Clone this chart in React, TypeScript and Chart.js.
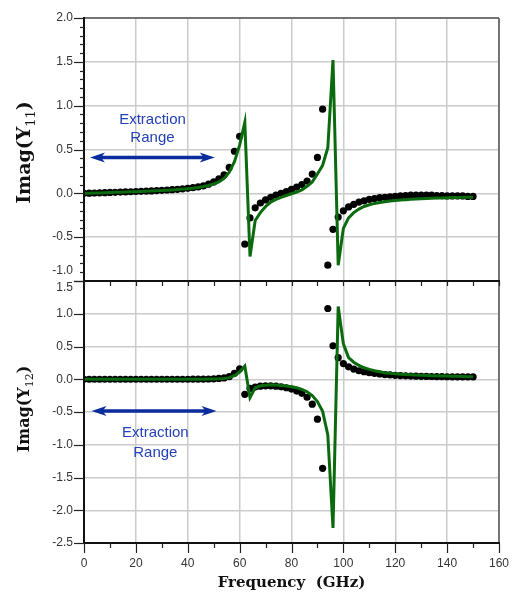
import React, { useEffect, useRef } from 'react';
import { Chart, registerables } from 'chart.js';

Chart.register(...registerables);

// ---------------- data ----------------
const frequencyGHz = [
  0, 2, 4, 6, 8, 10, 12, 14, 16, 18,
  20, 22, 24, 26, 28, 30, 32, 34, 36, 38,
  40, 42, 44, 46, 48, 50, 52, 54, 56, 58,
  60, 62, 64, 66, 68, 70, 72, 74, 76, 78,
  80, 82, 84, 86, 88, 90, 92, 94, 96, 98,
  100, 102, 104, 106, 108, 110, 112, 114, 116, 118,
  120, 122, 124, 126, 128, 130, 132, 134, 136, 138,
  140, 142, 144, 146, 148, 150,
];

const y11Measured = [
  0.0, 0.002, 0.004, 0.006, 0.008, 0.01, 0.012, 0.014, 0.016, 0.018,
  0.021, 0.023, 0.026, 0.028, 0.031, 0.034, 0.038, 0.042, 0.046, 0.051,
  0.057, 0.064, 0.073, 0.084, 0.105, 0.13, 0.165, 0.21, 0.295, 0.48,
  0.65, -0.58, -0.28, -0.165, -0.11, -0.075, -0.045, -0.02, 0.0, 0.02,
  0.045, 0.07, 0.1, 0.14, 0.22, 0.41, 0.96, -0.82, -0.41, -0.27,
  -0.2, -0.155, -0.125, -0.1, -0.085, -0.07, -0.06, -0.05, -0.045, -0.04,
  -0.035, -0.03, -0.025, -0.02, -0.02, -0.02, -0.02, -0.02, -0.025, -0.025,
  -0.03, -0.03, -0.03, -0.03, -0.035, -0.035,
];

const y11Model = [
  0.0, 0.001, 0.003, 0.005, 0.007, 0.009, 0.011, 0.013, 0.015, 0.017,
  0.019, 0.021, 0.024, 0.026, 0.029, 0.032, 0.035, 0.039, 0.043, 0.048,
  0.053, 0.059, 0.067, 0.077, 0.09, 0.107, 0.13, 0.17, 0.24, 0.36,
  0.55, 0.81, -0.72, -0.31, -0.22, -0.15, -0.1, -0.07, -0.045, -0.025,
  -0.005, 0.015, 0.04, 0.08, 0.13, 0.22, 0.32, 0.52, 1.52, -0.82,
  -0.4, -0.28, -0.22, -0.18, -0.15, -0.13, -0.115, -0.105, -0.095, -0.088,
  -0.082, -0.077, -0.072, -0.068, -0.064, -0.061, -0.058, -0.056, -0.054, -0.052,
  -0.05, -0.048, -0.047, -0.046, -0.045, -0.044,
];

const y12Measured = [
  0, 0, 0, 0, 0, 0, 0, 0, 0, 0,
  0, 0, 0, 0, 0, 0, 0, 0, 0, 0,
  0.0, 0.001, 0.001, 0.002, 0.004, 0.007, 0.012, 0.02, 0.04, 0.09,
  0.16, -0.23, -0.14, -0.12, -0.105, -0.1, -0.1, -0.105, -0.115, -0.13,
  -0.15, -0.18, -0.215, -0.275, -0.38, -0.61, -1.36, 1.08, 0.51, 0.33,
  0.24, 0.19, 0.155, 0.13, 0.115, 0.1, 0.09, 0.08, 0.072, 0.066,
  0.06, 0.056, 0.052, 0.049, 0.047, 0.045, 0.043, 0.042, 0.04, 0.039,
  0.038, 0.037, 0.036, 0.036, 0.035, 0.035,
];

const y12Model = [
  0, 0, 0, 0, 0, 0, 0, 0, 0, 0,
  0, 0, 0, 0, 0, 0, 0, 0, 0, 0,
  0.0, 0.0, 0.001, 0.001, 0.002, 0.003, 0.006, 0.012, 0.025, 0.055,
  0.11, 0.2, -0.28, -0.13, -0.1, -0.09, -0.085, -0.088, -0.094, -0.102,
  -0.114, -0.13, -0.155, -0.19, -0.25, -0.34, -0.49, -0.85, -2.27, 1.11,
  0.54, 0.33, 0.26, 0.21, 0.175, 0.15, 0.13, 0.115, 0.1, 0.092,
  0.085, 0.078, 0.072, 0.067, 0.063, 0.06, 0.057, 0.054, 0.052, 0.05,
  0.048, 0.046, 0.044, 0.042, 0.04, 0.038,
];

const xTickValues = [0, 20, 40, 60, 80, 100, 120, 140, 160];
const yTicksY11 = [-1.0, -0.5, 0.0, 0.5, 1.0, 1.5, 2.0];
const yTicksY12 = [-2.5, -2.0, -1.5, -1.0, -0.5, 0.0, 0.5, 1.0, 1.5];

// ---------------- styling ----------------
const TICK_FONT = '"Liberation Sans", Arial, sans-serif';
const SERIF = '"DejaVu Serif", serif';
const GREEN = '#0b6a0e';

const panelDecor = {
  id: 'panelDecor',
  afterDraw(chart: any, _args: any, o: any) {
    const { ctx, chartArea: a } = chart;
    const xs = chart.scales.x;
    const ys = chart.scales.y;
    const line = (x1: number, y1: number, x2: number, y2: number) => {
      ctx.beginPath();
      ctx.moveTo(x1, y1);
      ctx.lineTo(x2, y2);
      ctx.stroke();
    };
    ctx.save();
    ctx.lineCap = 'butt';

    // frame
    ctx.strokeStyle = '#555';
    ctx.lineWidth = 1.5;
    line(a.right, a.top, a.right, a.bottom);
    ctx.strokeStyle = o.topColor;
    ctx.lineWidth = o.topColor === '#111' ? 2 : 1.5;
    line(a.left, a.top, a.right, a.top);
    ctx.strokeStyle = '#111';
    ctx.lineWidth = 2;
    line(a.left, a.top - 1, a.left, a.bottom + 1);
    line(a.left - 1, a.bottom, a.right + 1, a.bottom);

    // y ticks
    ctx.lineWidth = 1.2;
    ctx.strokeStyle = '#222';
    for (const v of o.yMajor) {
      const py = Math.round(ys.getPixelForValue(v)) + 0.5;
      line(a.left - 10, py, a.left, py);
    }
    if (o.yMinor) {
      for (let k = Math.round(ys.min * 10); k <= Math.round(ys.max * 10); k++) {
        if (k % 5 === 0) continue;
        const py = Math.round(ys.getPixelForValue(k / 10)) + 0.5;
        line(a.left - 4, py, a.left, py);
      }
    }
    // x ticks
    for (let f = 0; f <= 160; f += 10) {
      const px = Math.round(xs.getPixelForValue(f)) + 0.5;
      if (o.xBottomTicks) line(px, a.bottom, px, a.bottom + (f % 20 === 0 ? 10 : 5));
      if (o.xTopTicks) line(px, a.top, px, a.top + 5);
    }

    // shifted edge labels
    ctx.fillStyle = '#333';
    ctx.font = `12px ${TICK_FONT}`;
    ctx.textAlign = 'right';
    ctx.textBaseline = 'middle';
    for (const s of o.shifted) {
      ctx.fillText(s.text, a.left - 11, ys.getPixelForValue(s.value) + s.dy);
    }

    // extraction range annotation
    const ar = o.arrow;
    const px0 = xs.getPixelForValue(ar.x0);
    const px1 = xs.getPixelForValue(ar.x1);
    const py = ys.getPixelForValue(ar.y);
    ctx.strokeStyle = '#0b2c9c';
    ctx.fillStyle = '#0b2c9c';
    ctx.lineWidth = 3.5;
    line(px0 + 10, py, px1 - 10, py);
    ctx.beginPath();
    ctx.moveTo(px0, py);
    ctx.lineTo(px0 + 15, py - 5);
    ctx.lineTo(px0 + 11, py);
    ctx.lineTo(px0 + 15, py + 5);
    ctx.closePath();
    ctx.fill();
    ctx.beginPath();
    ctx.moveTo(px1, py);
    ctx.lineTo(px1 - 15, py - 5);
    ctx.lineTo(px1 - 11, py);
    ctx.lineTo(px1 - 15, py + 5);
    ctx.closePath();
    ctx.fill();

    const lb = o.label;
    ctx.fillStyle = '#2340b6';
    ctx.font = `15px ${TICK_FONT}`;
    ctx.textAlign = 'center';
    ctx.textBaseline = 'middle';
    const lx = xs.getPixelForValue(lb.x);
    ctx.fillText('Extraction', lx, ys.getPixelForValue(lb.y1));
    ctx.fillText('Range', lx, ys.getPixelForValue(lb.y2));

    // y title with subscript, rotated
    const t = o.yTitle;
    ctx.fillStyle = '#111';
    ctx.textAlign = 'left';
    ctx.textBaseline = 'alphabetic';
    const mainFont = `bold ${t.size}px ${SERIF}`;
    const subFont = `${t.subSize}px ${SERIF}`;
    ctx.font = mainFont;
    const wMain = ctx.measureText(t.main).width;
    const wClose = ctx.measureText(')').width;
    ctx.font = subFont;
    const wSub = ctx.measureText(t.sub).width;
    const total = wMain + wSub + wClose;
    ctx.save();
    ctx.translate(t.x, (a.top + a.bottom) / 2 + t.dy);
    ctx.rotate(-Math.PI / 2);
    let cx = -total / 2;
    ctx.font = mainFont;
    ctx.fillText(t.main, cx, 0);
    cx += wMain;
    ctx.font = subFont;
    ctx.fillText(t.sub, cx, t.subShift);
    cx += wSub;
    ctx.font = mainFont;
    ctx.fillText(')', cx, 0);
    ctx.restore();

    // x title
    if (o.xTitle) {
      ctx.font = `bold 15px ${SERIF}`;
      ctx.textAlign = 'center';
      ctx.textBaseline = 'alphabetic';
      ctx.fillStyle = '#111';
      ctx.fillText(o.xTitle, (a.left + a.right) / 2, a.bottom + 44);
    }
    ctx.restore();
  },
};

function buildConfig(spec: any) {
  const pts = (arr: number[]) => frequencyGHz.map((f, i) => ({ x: f, y: arr[i] }));
  return {
    type: 'line',
    data: {
      datasets: [
        {
          label: 'Model',
          data: pts(spec.model),
          borderColor: GREEN,
          borderWidth: 3,
          pointRadius: 0,
          tension: 0,
          fill: false,
          order: 0,
        },
        {
          label: 'Measured',
          data: pts(spec.measured),
          showLine: false,
          pointRadius: 3.6,
          pointBackgroundColor: '#000',
          pointBorderWidth: 0,
          borderColor: '#000',
          order: 1,
        },
      ],
    },
    options: {
      responsive: false,
      animation: false,
      devicePixelRatio: 1,
      events: [],
      layout: { padding: { top: spec.padTop, right: 13, left: 0, bottom: 0 } },
      plugins: {
        legend: { display: false },
        tooltip: { enabled: false },
        panelDecor: spec.decor,
      },
      scales: {
        x: {
          type: 'linear',
          min: 0,
          max: 160,
          afterBuildTicks: (s: any) => {
            s.ticks = xTickValues.map((v) => ({ value: v }));
          },
          afterFit: (s: any) => {
            s.height = spec.xAxisHeight;
            s.paddingLeft = 0;
            s.paddingRight = 0;
          },
          grid: { color: '#cbcbcb', lineWidth: 1.5, drawTicks: false },
          border: { display: false },
          ticks: {
            display: spec.showXLabels,
            autoSkip: false,
            maxRotation: 0,
            padding: 13,
            color: '#333',
            font: { family: TICK_FONT, size: 12 },
            callback: (v: any) => String(v),
          },
        },
        y: {
          type: 'linear',
          min: spec.yMin,
          max: spec.yMax,
          afterBuildTicks: (s: any) => {
            s.ticks = spec.yTicks.map((v: number) => ({ value: v }));
          },
          afterFit: (s: any) => {
            s.width = 84;
            s.paddingTop = 0;
            s.paddingBottom = 0;
          },
          grid: { color: '#cbcbcb', lineWidth: 1.5, drawTicks: false },
          border: { display: false },
          ticks: {
            autoSkip: false,
            padding: 11,
            color: '#333',
            font: { family: TICK_FONT, size: 12 },
            callback: (v: any) => (spec.hidden.includes(Number(v)) ? '' : Number(v).toFixed(1)),
          },
        },
      },
    },
    plugins: [panelDecor],
  };
}

export default function App() {
  const topRef = useRef<HTMLCanvasElement>(null);
  const botRef = useRef<HTMLCanvasElement>(null);

  useEffect(() => {
    const top = new Chart(
      topRef.current as HTMLCanvasElement,
      buildConfig({
        measured: y11Measured,
        model: y11Model,
        yMin: -1.0,
        yMax: 2.0,
        yTicks: yTicksY11,
        hidden: [-1],
        padTop: 18,
        xAxisHeight: 19,
        showXLabels: false,
        decor: {
          topColor: '#555',
          yMajor: yTicksY11,
          yMinor: true,
          xBottomTicks: false,
          xTopTicks: false,
          shifted: [{ value: -1.0, text: '-1.0', dy: -10 }],
          arrow: { x0: 2.3, x1: 50.4, y: 0.41 },
          label: { x: 26.4, y1: 0.84, y2: 0.63 },
          yTitle: { main: 'Imag(Y', sub: '11', size: 19, subSize: 13, subShift: 5, x: 30, dy: 3 },
          xTitle: null,
        },
      }) as any
    );
    const bottom = new Chart(
      botRef.current as HTMLCanvasElement,
      buildConfig({
        measured: y12Measured,
        model: y12Model,
        yMin: -2.5,
        yMax: 1.5,
        yTicks: yTicksY12,
        hidden: [1.5],
        padTop: 11,
        xAxisHeight: 52,
        showXLabels: true,
        decor: {
          topColor: '#111',
          yMajor: yTicksY12,
          yMinor: false,
          xBottomTicks: true,
          xTopTicks: true,
          shifted: [{ value: 1.5, text: '1.5', dy: 7 }],
          arrow: { x0: 2.9, x1: 51.1, y: -0.485 },
          label: { x: 27.5, y1: -0.82, y2: -1.12 },
          yTitle: { main: 'Imag(Y', sub: '12', size: 16, subSize: 11, subShift: 4, x: 29, dy: -3 },
          xTitle: 'Frequency  (GHz)',
        },
      }) as any
    );
    return () => {
      top.destroy();
      bottom.destroy();
    };
  }, []);

  return (
    <div style={{ position: 'absolute', left: 0, top: 0, width: 512, height: 595, background: '#fff' }}>
      <canvas ref={topRef} width={512} height={300} style={{ position: 'absolute', left: 0, top: 0, width: 512, height: 300 }} />
      <canvas ref={botRef} width={512} height={325} style={{ position: 'absolute', left: 0, top: 270, width: 512, height: 325 }} />
    </div>
  );
}
